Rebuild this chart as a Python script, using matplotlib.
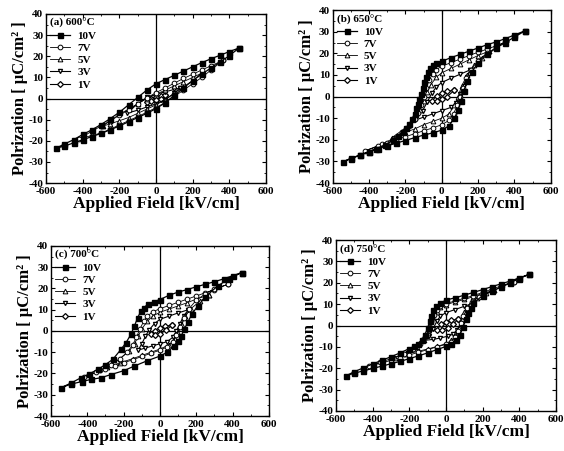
import matplotlib.pyplot as plt
from matplotlib.ticker import MultipleLocator

plt.rcParams['font.family'] = ['Liberation Serif', 'DejaVu Serif']
plt.rcParams['font.weight'] = 'bold'
plt.rcParams['axes.unicode_minus'] = False

# --- datos: cada lazo = rama superior + rama inferior ---
# (a) 600 C
E_a10 = [455, 400, 350, 300, 250, 200, 150, 100, 50, 0, -50, -100, -150, -200, -250, -300, -350, -400, -450, -500, -545,
         -500, -450, -400, -350, -300, -250, -200, -150, -100, -50, 0, 50, 100, 150, 200, 250, 300, 350, 400, 455]
P_a10 = [24, 22.2, 20.5, 18.8, 17, 15, 13, 11, 9, 7, 4, 0.5, -3, -6.5, -9.5, -12.3, -14.8, -17, -19.5, -21.5, -23.5,
         -22.5, -21, -19.5, -18, -16.5, -14.8, -13, -11, -9, -7, -4.8, -2, 1.5, 5, 8.5, 11.5, 14.5, 17.3, 20.3, 24]
E_a7 = [365, 300, 250, 200, 150, 100, 50, 0, -50, -100, -150, -200, -250, -300, -350, -420,
        -350, -300, -250, -200, -150, -100, -50, 0, 50, 100, 150, 200, 250, 300, 365]
P_a7 = [18, 15.5, 13.5, 11.5, 9.5, 7.3, 5, 2.8, 0.3, -2.5, -5.3, -8, -10.5, -13, -15.5, -19,
        -17.5, -16.3, -14.5, -12.5, -10.5, -8.5, -6.5, -4.3, -1.8, 1, 4, 7, 10, 13.5, 18]
E_a5 = [250, 200, 150, 100, 50, 0, -50, -100, -150, -200, -250, -290,
        -250, -200, -150, -100, -50, 0, 50, 100, 150, 200, 250]
P_a5 = [12, 10, 8, 6, 4, 2, 0, -2.5, -5, -7.5, -10.5, -13,
        -12, -10.5, -9, -7, -5, -3, -0.5, 2.5, 5.5, 8.5, 12]
E_a3 = [130, 100, 50, 0, -50, -100, -160, -100, -50, 0, 50, 100, 130]
P_a3 = [5, 4.3, 3.2, 2, 0.5, -2.5, -7, -5.5, -4, -2.5, -0.5, 2.5, 5]
E_a1 = [50, 25, 0, -25, -50, -25, 0, 25, 50]
P_a1 = [1.5, 1.2, 0.8, 0, -1.5, -1.2, -0.8, 0, 1.5]

# (b) 650 C
E_b10 = [460, 400, 350, 300, 250, 200, 150, 100, 50, 0, -30, -50, -65, -77, -86, -95, -105, -114, -123, -132, -141,
         -150, -163, -178, -195, -215, -240, -270, -310, -360, -400, -450, -500, -545,
         -500, -450, -400, -350, -300, -250, -200, -150, -100, -50, 0, 40, 70, 90, 105, 120, 140, 165, 200, 250,
         300, 350, 400, 460]
P_b10 = [30.5, 28.5, 26.8, 25.3, 24, 22.5, 21, 19.5, 18, 16.3, 15.5, 14.8, 13.3, 11.4, 9.2, 6.8, 4.1, 1.4, -0.9, -3.2,
         -5.5, -7.9, -10.2, -12.5, -14.5, -16.3, -18.3, -20.2, -22.2, -24, -25.4, -27.1, -28.7, -30.2,
         -28.5, -27, -25.5, -24, -22.8, -21.5, -20.3, -19, -17.8, -16.8, -15.5, -13.5, -10, -6, -2, 2.5, 7, 11.5,
         15.5, 19.5, 22.5, 25, 27.5, 30.5]
E_b7 = [355, 300, 250, 200, 150, 100, 50, 0, -30, -50, -70, -85, -100, -115, -130, -150, -180, -220, -270, -330, -420,
        -350, -300, -250, -200, -150, -100, -50, 0, 40, 65, 85, 100, 115, 135, 160, 200, 250, 300, 355]
P_b7 = [25.5, 23.5, 22, 20.5, 19, 17.3, 15.7, 14, 12.5, 10.5, 7.5, 4, 0, -4, -7.5, -10.5, -13.5, -16.5, -19.5, -22, -25,
        -23, -21.5, -20, -18.5, -17.2, -15.8, -14.5, -13, -11, -8, -4, 0, 4, 8.5, 12.5, 16.5, 20, 22.8, 25.5]
E_b5 = [260, 200, 150, 100, 50, 0, -30, -60, -80, -100, -120, -150, -200, -275,
        -200, -150, -100, -50, 0, 40, 70, 90, 110, 140, 180, 220, 260]
P_b5 = [21, 19, 17, 15, 13, 11, 9, 5.5, 2, -2, -6, -10, -14.5, -19,
        -16.5, -15, -13, -11.5, -10, -8, -4, 0, 5, 10, 14.5, 18, 21]
E_b3 = [155, 100, 50, 0, -30, -55, -80, -105, -150, -100, -50, 0, 50, 80, 100, 120, 140, 155]
P_b3 = [12.3, 10.3, 8.5, 6.5, 4.5, 1.5, -2.5, -6.5, -11, -9.5, -8, -6.5, -5, -3, 1, 5, 9, 12.3]
E_b1 = [70, 30, 0, -25, -55, -25, 0, 30, 70]
P_b1 = [3, 2.5, 1.8, 0.5, -2, -2, -1.3, 0, 3]

# (c) 700 C
E_c10 = [450, 400, 350, 300, 250, 200, 150, 100, 50, 0, -35, -68, -88, -105, -123, -141, -160, -187, -215, -260, -300,
         -343, -390, -435, -490, -545,
         -490, -430, -380, -325, -270, -200, -141, -70, 0, 40, 79, 100, 116, 134, 152, 175, 207, 250, 317, 380, 450]
P_c10 = [27.5, 26, 24.5, 23.2, 22, 20.8, 19.5, 18.3, 16.8, 14.8, 13.8, 12.5, 11, 9.4, 6.2, 2.3, -1.6, -5.5, -8.7, -13.4,
         -15.8, -18.1, -20.2, -22, -24.5, -26.7,
         -25, -23.8, -22.8, -22, -20.5, -18.7, -16.5, -14, -11.8, -10, -7, -4.7, -2.4, 0.8, 4, 7.8, 11.7, 16, 21.2,
         24.5, 27.5]
E_c7 = [375, 300, 250, 200, 150, 100, 50, 0, -40, -70, -90, -110, -130, -150, -180, -220, -270, -330, -420,
        -350, -300, -250, -200, -150, -100, -50, 0, 40, 70, 90, 110, 130, 160, 200, 250, 300, 375]
P_c7 = [22, 19.5, 18, 16.5, 15, 13.5, 12, 10.5, 9, 7, 4.5, 1, -3, -6.5, -10, -13, -16, -18.5, -21.5,
        -19.5, -18, -16.5, -15, -13.5, -12, -10.5, -9, -7.5, -5, -2, 2, 6, 10.5, 14.5, 17.5, 19.8, 22]
E_c5 = [270, 200, 150, 100, 50, 0, -40, -70, -100, -120, -140, -170, -220, -290,
        -220, -150, -100, -50, 0, 50, 80, 100, 120, 140, 170, 220, 270]
P_c5 = [17, 15, 13.3, 11.8, 10.3, 8.8, 7, 4.5, 1, -2.5, -6, -9.5, -13, -17,
        -15, -13, -11.5, -10, -8.5, -6.5, -4, -1, 3, 7, 10.5, 14, 17]
E_c3 = [156, 100, 50, 0, -30, -60, -80, -100, -120, -80, -40, 0, 40, 70, 90, 110, 130, 156]
P_c3 = [10, 8.5, 7, 5.5, 3.5, 0.5, -2.5, -6, -9, -8, -7, -6, -5, -3, 0, 3.5, 7, 10]
E_c1 = [65, 30, 0, -30, -50, -25, 0, 35, 65]
P_c1 = [2.8, 2.2, 1.5, 0.2, -1.5, -1.8, -1.2, 0.3, 2.8]

# (d) 750 C
E_d10 = [455, 400, 350, 300, 250, 200, 150, 100, 50, 0, -34, -52, -69, -80, -89, -100, -116, -132, -155, -175, -200,
         -250, -300, -350, -400, -450, -500, -545,
         -500, -450, -400, -350, -300, -250, -200, -150, -100, -50, 0, 30, 55, 76, 94, 110, 121, 135, 150, 200, 250,
         300, 350, 400, 455]
P_d10 = [24, 22.3, 20.8, 19.5, 18.2, 16.8, 15.5, 14.2, 13, 11.9, 10.4, 9, 7.3, 4.5, 1.9, -1.2, -4.4, -6.8, -8.5, -9.8,
         -10.8, -12.8, -14.6, -16.3, -18, -19.8, -21.6, -23.5,
         -22.3, -21.2, -20.1, -19, -17.9, -16.8, -15.5, -14.2, -12.8, -11.3, -9.8, -8.5, -6.8, -4.5, -0.5, 3, 5.8,
         8.3, 10.5, 14, 16, 18, 20, 22, 24]
E_d7 = [370, 300, 250, 200, 150, 100, 50, 0, -30, -50, -65, -80, -95, -115, -140, -180, -230, -300, -360, -420,
        -350, -300, -250, -200, -150, -100, -50, 0, 30, 50, 65, 80, 95, 115, 140, 180, 250, 300, 370]
P_d7 = [20.5, 18.5, 17, 15.5, 14, 12.8, 11.5, 10.3, 9.2, 7.5, 5, 1.5, -2, -5.5, -8.5, -11, -13.3, -15.5, -17.3, -19,
        -17.5, -16.3, -15, -13.8, -12.5, -11.3, -10, -8.8, -7.5, -5.5, -2.5, 1, 4.5, 8, 11, 13.5, 16, 18, 20.5]
E_d5 = [260, 200, 150, 100, 50, 0, -30, -50, -70, -85, -100, -120, -160, -220, -280,
        -220, -150, -100, -50, 0, 30, 55, 70, 85, 100, 130, 170, 220, 260]
P_d5 = [16.5, 15, 13.5, 12.2, 11, 9.8, 8.5, 6.5, 3.5, 0, -3.5, -7, -10, -12.8, -15,
        -13.5, -12, -11, -9.8, -8.5, -7, -4.5, -1, 3, 6.5, 10, 12.8, 15, 16.5]
E_d3 = [150, 100, 50, 0, -30, -50, -70, -90, -125, -70, -30, 10, 40, 60, 80, 100, 125, 150]
P_d3 = [10.5, 9, 7.5, 6, 4.5, 2, -1.5, -5, -7, -6.5, -5.8, -5, -4, -2, 1, 4.5, 8, 10.5]
E_d1 = [65, 30, 0, -25, -50, -20, 10, 40, 65]
P_d1 = [3, 2.5, 1.8, 0.5, -2, -2, -1, 0.5, 3]

voltajes = ['10V', '7V', '5V', '3V', '1V']
marcadores = ['s', 'o', '^', 'v', 'D']
titulos = ['(a) 600°C', '(b) 650°C', '(c) 700°C', '(d) 750°C']

paneles = [
    [(E_a10, P_a10), (E_a7, P_a7), (E_a5, P_a5), (E_a3, P_a3), (E_a1, P_a1)],
    [(E_b10, P_b10), (E_b7, P_b7), (E_b5, P_b5), (E_b3, P_b3), (E_b1, P_b1)],
    [(E_c10, P_c10), (E_c7, P_c7), (E_c5, P_c5), (E_c3, P_c3), (E_c1, P_c1)],
    [(E_d10, P_d10), (E_d7, P_d7), (E_d5, P_d5), (E_d3, P_d3), (E_d1, P_d1)],
]

# posiciones de los ejes en fraccion de figura
posiciones = [
    [0.0816, 0.594, 0.390, 0.375],
    [0.590, 0.594, 0.3865, 0.3836],
    [0.0904, 0.0776, 0.3865, 0.377],
    [0.5957, 0.0887, 0.390, 0.379],
]

fig = plt.figure(figsize=(5.64, 4.51), dpi=100)

for i in range(4):
    ax = fig.add_axes(posiciones[i])
    ax.axhline(0, color='black', lw=0.9, zorder=1)
    ax.axvline(0, color='black', lw=0.9, zorder=1)

    # dibujar de dentro hacia fuera, 10V al final
    for j in range(4, -1, -1):
        E, P = paneles[i][j]
        if j == 0:
            ax.plot(E, P, color='black', lw=0.9, marker='s', ms=3.6,
                    mfc='black', mec='black', label=voltajes[j], zorder=5)
        elif j >= 3:
            # los lazos pequenos se ven casi negros en el original
            ax.plot(E, P, color='black', lw=0.8, marker=marcadores[j], ms=3.0,
                    mfc='white', mec='black', mew=0.9, label=voltajes[j], zorder=5 - j)
        else:
            ax.plot(E, P, color='black', lw=0.6, marker=marcadores[j], ms=3.4,
                    mfc='white', mec='black', mew=0.7, label=voltajes[j], zorder=5 - j)

    ax.set_xlim(-600, 600)
    ax.set_ylim(-40, 40)
    ax.xaxis.set_major_locator(MultipleLocator(200))
    ax.xaxis.set_minor_locator(MultipleLocator(100))
    ax.yaxis.set_major_locator(MultipleLocator(10))
    ax.yaxis.set_minor_locator(MultipleLocator(5))
    ax.tick_params(which='both', direction='in', top=True, right=True, labelsize=8)
    ax.tick_params(axis='x', pad=3)
    ax.tick_params(axis='y', pad=2)
    ax.tick_params(which='major', length=3, width=0.8)
    ax.tick_params(which='minor', length=1.5, width=0.6)
    for s in ax.spines.values():
        s.set_linewidth(1.0)
    for lab in ax.get_xticklabels() + ax.get_yticklabels():
        lab.set_fontweight('bold')

    ax.set_xlabel('Applied Field [kV/cm]', fontsize=12.5, fontweight='bold', labelpad=0)
    ax.set_ylabel('Polrization [ μC/cm² ]', fontsize=12, fontweight='bold', labelpad=0)

    handles, labels = ax.get_legend_handles_labels()
    orden = [labels.index(v) for v in voltajes]
    leg = ax.legend([handles[k] for k in orden], [labels[k] for k in orden],
                    title=titulos[i], loc='upper left', frameon=False, fontsize=8,
                    title_fontsize=8, alignment='left', handlelength=1.8,
                    handletextpad=0.6, labelspacing=0.22, borderaxespad=0.2,
                    borderpad=0.2)
    for t in leg.get_texts():
        t.set_fontweight('bold')
    leg.get_title().set_fontweight('bold')

plt.savefig('out.png', dpi=100)
